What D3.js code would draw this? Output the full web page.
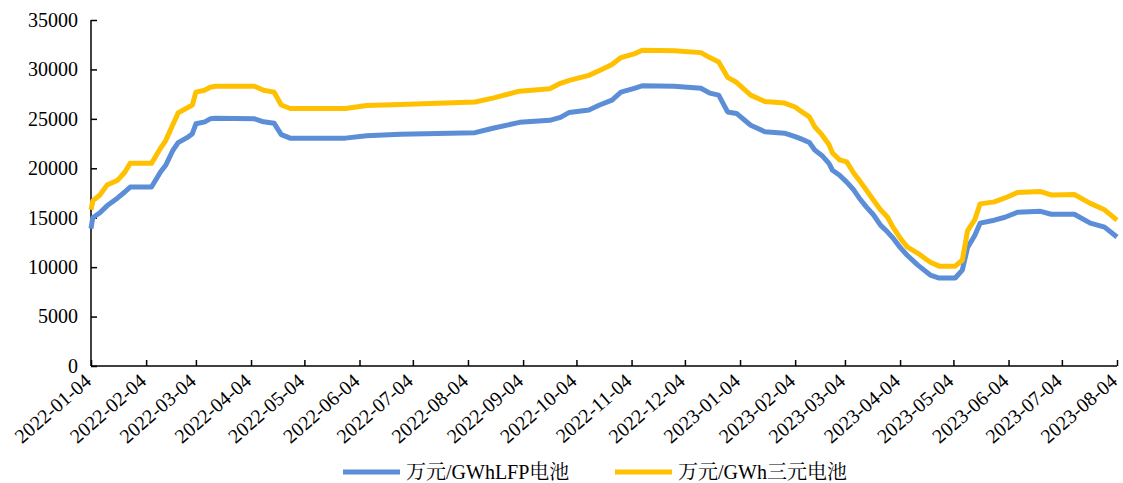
<!DOCTYPE html>
<html><head><meta charset="utf-8">
<script src="https://cdn.jsdelivr.net/npm/d3@7/dist/d3.min.js"></script>
<style>
html,body{margin:0;padding:0;background:#fff;}
</style></head>
<body>
<svg id="chart" width="1123" height="483"></svg>
<script>
const dates = ["2022-01-04","2022-01-05","2022-01-09","2022-01-13","2022-01-19","2022-01-23","2022-01-26","2022-02-07","2022-02-12","2022-02-15","2022-02-19","2022-02-22","2022-02-27","2022-03-02","2022-03-04","2022-03-09","2022-03-12","2022-03-15","2022-04-06","2022-04-11","2022-04-17","2022-04-21","2022-04-26","2022-05-27","2022-06-08","2022-06-27","2022-08-08","2022-08-18","2022-09-02","2022-09-19","2022-09-25","2022-09-30","2022-10-11","2022-10-17","2022-10-24","2022-10-29","2022-11-06","2022-11-10","2022-11-28","2022-12-13","2022-12-18","2022-12-23","2022-12-28","2023-01-02","2023-01-10","2023-01-18","2023-01-29","2023-02-04","2023-02-07","2023-02-12","2023-02-15","2023-02-19","2023-02-23","2023-02-25","2023-03-01","2023-03-05","2023-03-09","2023-03-12","2023-03-16","2023-03-20","2023-03-24","2023-03-28","2023-03-31","2023-04-04","2023-04-08","2023-04-14","2023-04-21","2023-04-26","2023-05-05","2023-05-09","2023-05-12","2023-05-16","2023-05-19","2023-05-27","2023-06-02","2023-06-09","2023-06-22","2023-06-28","2023-07-11","2023-07-20","2023-07-28","2023-08-04"];
const lfp = [13900,15000,15500,16200,17000,17600,18100,18100,19600,20300,21800,22600,23100,23500,24500,24700,25000,25050,25000,24700,24550,23400,23050,23050,23300,23450,23600,24050,24650,24850,25150,25650,25900,26400,26900,27700,28100,28350,28300,28100,27600,27400,25700,25550,24350,23700,23550,23200,23000,22600,21850,21300,20500,19800,19300,18600,17800,17000,16100,15300,14250,13550,12950,12000,11200,10200,9200,8900,8900,9700,12000,13200,14450,14750,15050,15550,15650,15350,15350,14450,14050,13050];
const ncm = [15800,16700,17300,18300,18800,19600,20500,20500,22000,22800,24400,25600,26100,26400,27700,27900,28200,28300,28300,27900,27700,26400,26050,26050,26350,26450,26700,27100,27800,28050,28600,28900,29400,29900,30500,31200,31600,31950,31900,31700,31200,30750,29200,28700,27400,26750,26600,26200,25800,25200,24200,23400,22400,21550,20850,20650,19500,18800,17800,16800,15800,15050,14050,12950,12050,11400,10500,10100,10100,10700,13700,14800,16400,16600,17000,17550,17650,17300,17350,16450,15800,14750];
const seriesNames = ["万元/GWhLFP电池","万元/GWh三元电池"];
const seriesColors = ["#5B8ED6","#FFC000"];
const xTickLabels = ["2022-01-04","2022-02-04","2022-03-04","2022-04-04","2022-05-04","2022-06-04","2022-07-04","2022-08-04","2022-09-04","2022-10-04","2022-11-04","2022-12-04","2023-01-04","2023-02-04","2023-03-04","2023-04-04","2023-05-04","2023-06-04","2023-07-04","2023-08-04"];
const yTicks = [0,5000,10000,15000,20000,25000,30000,35000];

(function(){
const FONT = '"Liberation Serif","Times New Roman","Noto Serif CJK SC","Noto Sans CJK SC",serif';
const parse = d3.timeParse("%Y-%m-%d");
const svg = d3.select("#chart");
const mL = 91, mR = 1117, mT = 20, mB = 366;

const x = d3.scaleTime().domain([parse(xTickLabels[0]), parse(xTickLabels[xTickLabels.length-1])]).range([mL, mR]);
const y = d3.scaleLinear().domain([0, 35000]).range([mB, mT]);

// Y axis
const yAxis = svg.append("g").attr("transform", `translate(${mL},0)`)
  .call(d3.axisLeft(y).tickValues(yTicks).tickSize(-6).tickPadding(13).tickFormat(d3.format("d")));
yAxis.attr("font-family", null);
yAxis.select(".domain").attr("stroke","#000").attr("stroke-width",1.5).attr("d", `M0,${mT}V${mB}`);
yAxis.selectAll(".tick line").attr("stroke","#000").attr("stroke-width",1.5);
yAxis.selectAll(".tick text").style("font-size","20px").style("font-family",FONT).attr("fill","#000");

// X axis
const xAxis = svg.append("g").attr("transform", `translate(0,${mB})`)
  .call(d3.axisBottom(x).tickValues(xTickLabels.map(parse)).tickSize(-6).tickFormat(d3.timeFormat("%Y-%m-%d")));
xAxis.attr("font-family", null);
xAxis.select(".domain").attr("stroke","#000").attr("stroke-width",1.5).attr("d", `M${mL},0H${mR}`);
xAxis.selectAll(".tick line").attr("stroke","#000").attr("stroke-width",1.5);
xAxis.selectAll(".tick text")
  .style("font-size","20px").style("font-family",FONT).attr("fill","#000")
  .attr("text-anchor","end").attr("y",0).attr("dy","0")
  .attr("transform","translate(1,17) rotate(-41)");

// lines
const line = d3.line().x((d,i)=>x(parse(dates[i]))).y(d=>y(d)).curve(d3.curveLinear);
[lfp, ncm].forEach((s,k)=>{
  svg.append("path").datum(s).attr("d", line).attr("fill","none")
    .attr("stroke", seriesColors[k]).attr("stroke-width",5).attr("stroke-linejoin","round").attr("stroke-linecap","butt");
});

// legend
const legendX = [343, 615];
seriesNames.forEach((n,k)=>{
  const g = svg.append("g").attr("transform", `translate(${legendX[k]},472)`);
  g.append("line").attr("x1",0).attr("x2",57).attr("y1",0).attr("y2",0)
    .attr("stroke", seriesColors[k]).attr("stroke-width",5);
  g.append("text").attr("x",63).attr("y",0).attr("dy","0.35em")
    .style("font-size","20px").style("font-family",FONT).attr("fill","#000").text(n);
});
})();
</script>
</body></html>
